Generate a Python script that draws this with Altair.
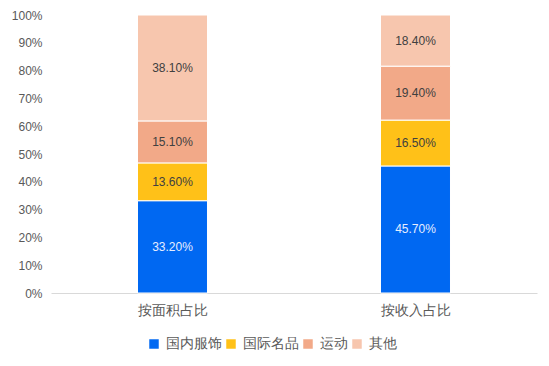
import altair as alt
import pandas as pd

categories = ["按面积占比", "按收入占比"]
series = ["国内服饰", "国际名品", "运动", "其他"]
values_area = [33.2, 13.6, 15.1, 38.1]
values_income = [45.7, 16.5, 19.4, 18.4]
colors = ["#0068F2", "#FFC118", "#F2A988", "#F7C6AE"]

rows = []
for cat, vals in zip(categories, [values_area, values_income]):
    for i, (s, v) in enumerate(zip(series, vals)):
        rows.append({"cat": cat, "series": s, "idx": i, "value": v,
                     "label": f"{v:.2f}%"})
df = pd.DataFrame(rows)

base = alt.Chart(df).transform_stack(
    stack="value", groupby=["cat"], as_=["y0", "y1"],
    sort=[alt.SortField("idx", order="ascending")]
).transform_calculate(mid="(datum.y0 + datum.y1) / 2")

yaxis = alt.Axis(values=list(range(0, 101, 10)), labelExpr="datum.value + '%'",
                 grid=False, domain=False, ticks=False, labelFontSize=12,
                 labelColor="#595959", labelFont="Liberation Sans",
                 labelPadding=9, labelOverlap=False, labelBound=False)
yscale = alt.Scale(domain=[0, 100], nice=False)

xenc = alt.X("cat:N", sort=categories, title=None,
             scale=alt.Scale(paddingInner=0.712, paddingOuter=0.356),
             axis=alt.Axis(labelAngle=0, labelFontSize=14, labelColor="#595959",
                           labelFont="Liberation Sans", ticks=False,
                           domainColor="#D9D9D9", labelPadding=10))

bars = base.mark_bar(stroke="white", strokeWidth=1).encode(
    x=xenc,
    y=alt.Y("y0:Q", title=None, scale=yscale, axis=yaxis),
    y2="y1:Q",
    color=alt.Color("series:N", sort=series,
                    scale=alt.Scale(domain=series, range=colors),
                    legend=alt.Legend(title=None, orient="none", direction="horizontal",
                                      legendX=96, legendY=322, symbolType="square",
                                      symbolSize=90, symbolStrokeWidth=0,
                                      labelFontSize=14, labelColor="#595959",
                                      labelFont="Liberation Sans", columnPadding=2,
                                      symbolOffset=0, labelOffset=5)),
)

text = base.mark_text(fontSize=12, font="Liberation Sans").encode(
    x=alt.X("cat:N", sort=categories),
    y=alt.Y("mid:Q", title=None, scale=yscale, axis=yaxis),
    text="label:N",
    color=alt.condition(alt.datum.series == "国内服饰", alt.value("#E6EDFF"),
                        alt.value("#404040")),
)

chart = (bars + text).properties(
    width=486, height=278,
    autosize=alt.AutoSizeParams(type="none"),
    padding={"left": 43, "top": 7, "right": 4, "bottom": 70},
).configure_view(stroke=None).configure_axisY(labelOverlap=False)

chart.save("out.html", embed_options={"renderer": "svg", "actions": False})
